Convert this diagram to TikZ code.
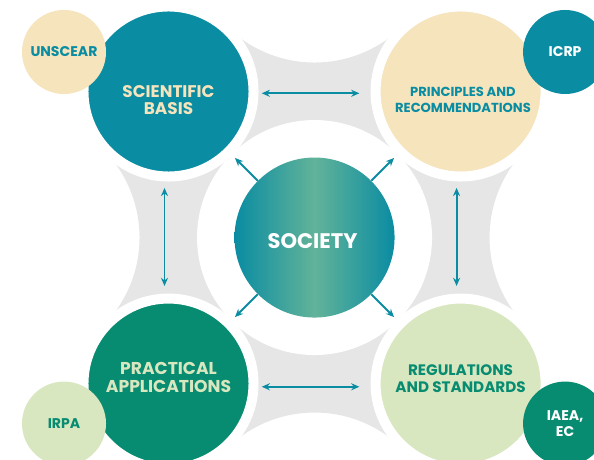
\documentclass[tikz,border=0pt]{standalone}
\usepackage{fontspec}
\setmainfont{Poppins}
\usetikzlibrary{arrows.meta,calc,backgrounds}

\definecolor{teal0}{HTML}{0A8CA2}
\definecolor{cream0}{HTML}{F5E4BC}
\definecolor{green0}{HTML}{088C71}
\definecolor{lime0}{HTML}{D9E7C0}
\definecolor{mint0}{HTML}{62B399}
\definecolor{bggray}{HTML}{E6E6E6}

\tikzset{
  hub/.style={circle,minimum size=4.25cm,inner sep=0pt,draw=white,line width=0.25cm},
  badge/.style={circle,minimum size=2.1cm,inner sep=0pt,align=center,font=\fontsize{10}{11.8}\selectfont\bfseries},
  lbl/.style={text=#1,align=center,font=\fontsize{12}{12.3}\selectfont\bfseries},
  flow/.style={draw=teal0,line width=1.4pt}
}

\begin{document}
\begin{tikzpicture}
  [x=0.025cm,y=0.025cm,node distance=7.3cm,>={Stealth[length=5.8pt,width=5pt]}]
  \useasboundingbox (0,0) rectangle (594,460);

  % the four fields
  \node[hub,fill=teal0,label={[lbl=cream0,yshift=-0.21cm]center:SCIENTIFIC\\BASIS}] (sci) at (168.5,368.5) {};
  \node[hub,fill=cream0,label={[lbl=teal0,font=\fontsize{9.3}{11.8}\selectfont\bfseries,yshift=-0.21cm,xshift=0.06cm]center:PRINCIPLES AND\\RECOMMENDATIONS}] (prin) [right of=sci] {};
  \node[hub,fill=green0,label={[lbl=lime0,font=\fontsize{12.2}{12.6}\selectfont\bfseries,yshift=0.15cm]center:PRACTICAL\\APPLICATIONS}] (prac) [below of=sci] {};
  \node[hub,fill=lime0,label={[lbl=green0,font=\fontsize{10.8}{12.5}\selectfont\bfseries,yshift=0.125cm]center:REGULATIONS\\AND STANDARDS}] (reg) [right of=prac] {};

  \node[circle,minimum size=4cm,left color=teal0,right color=teal0,middle color=mint0,
    label={[text=white,font=\fontsize{15}{15}\selectfont\bfseries,yshift=-0.1cm,xshift=-0.05cm]center:SOCIETY}] (soc) at ($(sci)!0.5!(reg)$) {};

  % bodies
  \node[badge,fill=cream0,text=teal0] (unscear) at ($(sci)+(-104.5,39.5)$) {UNSCEAR};
  \node[badge,fill=teal0,text=white] (icrp) at ($(prin)+(104.5,39.5)$) {ICRP};
  \node[badge,fill=lime0,text=green0] (irpa) at ($(prac)+(-104.5,-40)$) {IRPA};
  \node[badge,fill=green0,text=white] (iaea) at ($(reg)+(104.5,-40)$) {IAEA,\\EC};

  % arrows
  \draw[flow,<->,shorten <=0.08cm,shorten >=0.28cm] ([yshift=-0.045cm]sci.east) -- ([yshift=-0.045cm]prin.west);
  \draw[flow,<->,shorten <=0.08cm,shorten >=0.28cm] ([yshift=-0.08cm]prac.east) -- ([yshift=-0.08cm]reg.west);
  \draw[flow,<->,shorten <=0.16cm,shorten >=0.19cm] ([xshift=-0.1cm]sci.south) -- ([xshift=-0.1cm]prac.north);
  \draw[flow,<->,shorten <=0.16cm,shorten >=0.19cm] ([xshift=-0.1cm]prin.south) -- ([xshift=-0.1cm]reg.north);
  \draw[flow,->,shorten >=0.1cm] (soc) -- (sci);
  \draw[flow,->,shorten >=0.1cm] (soc) -- (prin);
  \draw[flow,->,shorten >=0.1cm] (soc) -- (prac);
  \draw[flow,->,shorten >=0.1cm] (soc) -- (reg);

  \begin{scope}[on background layer]
    \fill[bggray] (sci.center) -- ($(soc)+(-300,0)+(37:125)$) arc[start angle=37,end angle=-37,radius=125]
      -- (prac.center) -- ($(soc)+(0,-300)+(127:125)$) arc[start angle=127,end angle=53,radius=125]
      -- (reg.center) -- ($(soc)+(300,0)+(217:125)$) arc[start angle=217,end angle=143,radius=125]
      -- (prin.center) -- ($(soc)+(0,300)+(307:125)$) arc[start angle=307,end angle=233,radius=125]
      -- cycle;
    \fill[white] (soc) circle[radius=117.5];
  \end{scope}
\end{tikzpicture}
\end{document}
